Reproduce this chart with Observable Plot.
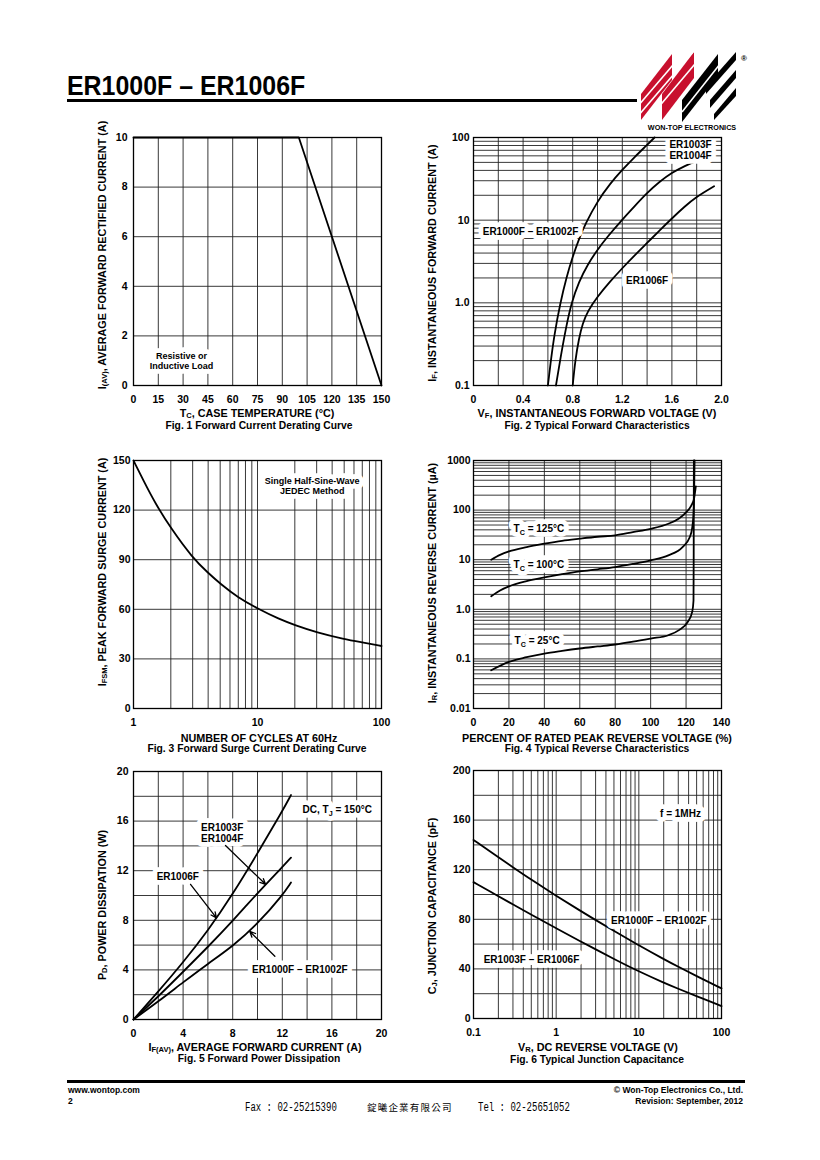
<!DOCTYPE html>
<html><head><meta charset="utf-8">
<script src="https://cdn.jsdelivr.net/npm/d3@7"></script>
<script src="https://cdn.jsdelivr.net/npm/@observablehq/plot@0.6"></script>
<style>
html,body{margin:0;padding:0;background:#fff;}
#page{position:relative;width:820px;height:1160px;overflow:hidden;background:#fff;font-family:"Liberation Sans",Arial,Helvetica,sans-serif;color:#000;}
.t{position:absolute;white-space:nowrap;line-height:1;font-weight:bold;}
sub{font-size:0.7em;vertical-align:-0.2em;line-height:0;}
</style></head><body><div id="page"></div><script>
// ---------------- DATA ----------------
// Fig. 1 Forward Current Derating Curve (Tc °C, A)
const fig1Temp = [0, 100, 150];
const fig1Current = [10, 10, 0];
const fig1XTicks = [0, 15, 30, 45, 60, 75, 90, 105, 120, 135, 150];
const fig1YTicks = [0, 2, 4, 6, 8, 10];
const fig1Notes = [{x: 29, y: 1.0, text: "Resistive or\nInductive Load"}];

// Fig. 2 Typical Forward Characteristics (V, A)
const fig2XTicks = [0, 0.4, 0.8, 1.2, 1.6, 2.0];
const fig2YTicks = [0.1, 1, 10, 100];
const fwdER1000 = [[0.60,0.1],[0.62,0.18],[0.65,0.40],[0.70,1.0],[0.75,2.04],[0.80,3.63],[0.85,5.9],[0.90,8.9],[1.0,17],[1.1,27.5],[1.2,40.7],[1.3,58.2],[1.4,81.3],[1.46,100]];
const fwdER1003 = [[0.665,0.1],[0.70,0.21],[0.75,0.54],[0.79,1.0],[0.85,1.8],[0.92,2.9],[1.0,4.4],[1.08,6.3],[1.19,9.8],[1.3,14.8],[1.4,21.4],[1.5,29.2],[1.6,37.6],[1.7,45],[1.8,52.5]];
const fwdER1006 = [[0.80,0.1],[0.82,0.2],[0.85,0.37],[0.88,0.56],[0.92,0.79],[1.0,1.19],[1.1,1.8],[1.2,2.63],[1.3,3.76],[1.4,5.3],[1.5,7.5],[1.6,10.5],[1.7,14.5],[1.8,19.3],[1.94,25.7]];
const fig2Notes = [
  {x: 1.75, y: 71.6, text: "ER1003F\nER1004F"},
  {x: 0.46, y: 7.3, text: "ER1000F – ER1002F"},
  {x: 1.40, y: 1.86, text: "ER1006F"}
];

// Fig. 3 Forward Surge Current Derating Curve (cycles, A)
const fig3XTicks = [1, 10, 100];
const fig3YTicks = [0, 30, 60, 90, 120, 150];
const surgeCycles = [1, 1.2, 1.5, 2, 3, 4, 5, 7, 10, 15, 20, 30, 50, 70, 100];
const surgeCurrent = [150, 138, 124, 109, 91, 82, 75.5, 67, 60.5, 54, 50.5, 46, 42, 40, 37.8];
const fig3Notes = [{x: 27.6, y: 134.9, text: "Single Half-Sine-Wave\nJEDEC Method"}];

// Fig. 4 Typical Reverse Characteristics (% VRRM, µA)
const fig4XTicks = [0, 20, 40, 60, 80, 100, 120, 140];
const fig4YTicks = [0.01, 0.1, 1, 10, 100, 1000];
const rev125 = [[10,10],[15,12.5],[20,14.7],[30,18],[40,21],[50,24],[60,26.5],[70,29],[80,31],[90,36],[100,42],[110,53],[116,68],[120,90],[123,125],[124.5,170],[125.5,300]];
const rev100 = [[10,1.83],[15,2.4],[20,2.9],[30,3.7],[40,4.4],[50,5.1],[60,5.8],[70,6.4],[80,7.1],[90,8.2],[100,9.7],[110,12.2],[118,18],[122,28],[123.5,45],[124.3,100],[124.6,300],[124.8,1000]];
const rev25 = [[10,0.059],[20,0.087],[30,0.108],[40,0.128],[50,0.145],[60,0.162],[70,0.178],[80,0.195],[90,0.222],[100,0.257],[110,0.30],[116,0.38],[121,0.56],[123.5,0.9],[124.2,1.5],[124.3,10],[124.4,1000]];
const fig4Notes = [
  {x: 36.9, y: 42, text: "T{C} = 125°C"},
  {x: 36.9, y: 8.0, text: "T{C} = 100°C"},
  {x: 35.9, y: 0.235, text: "T{C} = 25°C"}
];

// Fig. 5 Forward Power Dissipation (A, W)
const fig5XTicks = [0, 4, 8, 12, 16, 20];
const fig5YTicks = [0, 4, 8, 12, 16, 20];
const pdER1006 = [[0,0],[2,2.25],[4,4.6],[6,7.15],[8,10.1],[10,13.4],[12,16.8],[12.7,18.1]];
const pdER1003 = [[0,0],[2,1.85],[4,3.85],[6,5.85],[8,7.95],[10,10.2],[12,12.3],[12.7,13.05]];
const pdER1000 = [[0,0],[2,1.45],[4,3.0],[6,4.5],[8,5.9],[10,7.7],[12,10.0],[12.7,11.05]];
const fig5Notes = [
  {x: 16.43, y: 16.9, text: "DC, T{J} = 150°C"},
  {x: 7.15, y: 15.08, text: "ER1003F\nER1004F"},
  {x: 3.57, y: 11.53, text: "ER1006F"},
  {x: 13.41, y: 4.0, text: "ER1000F – ER1002F"}
];
const fig5Arrows = [
  {x1: 4.6, y1: 10.9, x2: 6.69, y2: 8.2},
  {x1: 7.42, y1: 14.03, x2: 10.65, y2: 10.9},
  {x1: 11.4, y1: 5.1, x2: 9.38, y2: 7.1}
];

// Fig. 6 Typical Junction Capacitance (V, pF)
const fig6XTicks = [0.1, 1, 10, 100];
const fig6YTicks = [0, 40, 80, 120, 160, 200];
const capVolts = [0.1, 0.2, 0.3, 0.5, 1, 2, 3, 5, 10, 20, 30, 50, 100];
const capER1000 = [144, 130, 122, 112, 99, 86.5, 79.4, 70.6, 59, 47.9, 41.7, 34.2, 24.3];
const capER1003 = [110, 98.6, 92, 83.8, 72.8, 62, 55.8, 48, 37.9, 28.9, 24, 18, 10];
const fig6Notes = [
  {x: 31.9, y: 165, text: "f = 1MHz"},
  {x: 17.5, y: 79, text: "ER1000F – ER1002F"},
  {x: 0.503, y: 47.3, text: "ER1003F – ER1006F"}
];

// ---------------- HELPERS ----------------
const FONT = '"Liberation Sans", Arial, Helvetica, sans-serif';
const page = document.getElementById("page");
const PW = 248, PH = 248, ML = 44, MR = 18, MT = 12, MB = 26;

function linGrid(lo, hi, step) { const a = []; for (let v = lo; v <= hi + 1e-9; v += step) a.push(+v.toFixed(6)); return a; }
function logGrid(lo, hi) { const a = []; for (let d = lo; d < hi * 0.999; d *= 10) for (let m = 1; m <= 9; m++) a.push(+(m * d).toPrecision(6)); a.push(hi); return a; }
const numFmt = d => d === 1 ? "1.0" : String(d);

function subscriptify(svg) {
  svg.querySelectorAll("text").forEach(t => {
    const s = t.textContent;
    if (!s.includes("{")) return;
    const parts = s.split(/(\{[^}]*\})/).filter(p => p);
    while (t.firstChild) t.removeChild(t.firstChild);
    let shifted = false;
    parts.forEach(p => {
      const ts = document.createElementNS("http://www.w3.org/2000/svg", "tspan");
      if (p.startsWith("{")) { ts.textContent = p.slice(1, -1); ts.setAttribute("font-size", "7.2"); ts.setAttribute("dy", "2.5"); shifted = true; }
      else { ts.textContent = p; if (shifted) { ts.setAttribute("dy", "-2.5"); shifted = false; } }
      t.appendChild(ts);
    });
  });
}

const lineStyle = {stroke: "#000", strokeWidth: 1.8, curve: "basis"};
// two layers: white box-like halo first, black text on top
function notes(data, fs) {
  const base = {x: "x", y: "y", text: "text", fontSize: fs, lineHeight: fs < 10 ? 1.12 : 1.1};
  return [
    Plot.text(data, {...base, fill: "white", stroke: "white", strokeWidth: 9.5, strokeLinejoin: "round"}),
    Plot.text(data, {...base, fill: "#000"})
  ];
}

function chart(o) {
  const svg = Plot.plot({
    width: ML + PW + MR, height: MT + PH + MB,
    marginLeft: ML, marginRight: MR, marginTop: MT, marginBottom: MB,
    x: o.x, y: o.y,
    style: {fontFamily: FONT, fontSize: "10.5px", fontWeight: "bold", color: "#000", background: "transparent", overflow: "visible"},
    marks: [
      Plot.ruleX(o.xGrid, {stroke: "#222", strokeWidth: 0.9}),
      Plot.ruleY(o.yGrid, {stroke: "#222", strokeWidth: 0.9}),
      ...o.marks,
      Plot.frame({stroke: "#000", strokeWidth: 1.3}),
      Plot.axisX({ticks: o.xTicks, tickFormat: o.xFmt || (d => String(d)), tickSize: 0, tickPadding: 10, label: null}),
      Plot.axisY({ticks: o.yTicks, tickFormat: o.yFmt || (d => String(d)), tickSize: 0, tickPadding: o.yPad, label: null})
    ]
  });
  svg.style.position = "absolute";
  svg.style.left = (o.x0 - ML) + "px";
  svg.style.top = (o.y0 - MT) + "px";
  page.appendChild(svg);
  subscriptify(svg);
}

function txt(html, x, y, opt = {}) {
  const d = document.createElement("div");
  d.className = "t";
  d.innerHTML = html;
  const a = opt.anchor || "middle";
  const tx = a === "start" ? "0" : a === "end" ? "-100%" : "-50%";
  d.style.left = x + "px";
  d.style.top = y + "px";
  d.style.fontSize = (opt.size || 10.8) + "px";
  if (opt.family) d.style.fontFamily = opt.family;
  if (opt.weight) d.style.fontWeight = opt.weight;
  if (opt.ls) d.style.letterSpacing = opt.ls + "px";
  let tr = `translate(${tx},-50%)`;
  if (opt.rotate) tr += " rotate(-90deg)";
  if (opt.sx) { tr += ` scaleX(${opt.sx})`; }
  d.style.transform = tr;
  if (opt.sx) d.style.transformOrigin = a === "start" ? "left center" : "center";
  page.appendChild(d);
  return d;
}

// ---------------- CHARTS ----------------
chart({
  x0: 133, y0: 137,
  x: {domain: [0, 150]}, y: {domain: [0, 10]},
  xGrid: fig1XTicks, yGrid: fig1YTicks, xTicks: fig1XTicks, yTicks: fig1YTicks, yPad: 6,
  marks: [
    Plot.line(fig1Temp.map((t, i) => ({t, i: fig1Current[i]})), {x: "t", y: "i", stroke: "#000", strokeWidth: 1.8}),
    ...notes(fig1Notes, 9)
  ]
});

chart({
  x0: 473, y0: 137,
  x: {domain: [0, 2]}, y: {type: "log", domain: [0.1, 100]},
  xGrid: linGrid(0, 2, 0.2), yGrid: logGrid(0.1, 100), xTicks: fig2XTicks, yTicks: fig2YTicks, yPad: 4,
  xFmt: d => d === 0 ? "0" : d.toFixed(1), yFmt: numFmt,
  marks: [
    Plot.line(fwdER1000, {x: d => d[0], y: d => d[1], ...lineStyle}),
    Plot.line(fwdER1003, {x: d => d[0], y: d => d[1], ...lineStyle}),
    Plot.line(fwdER1006, {x: d => d[0], y: d => d[1], ...lineStyle}),
    ...notes(fig2Notes, 10)
  ]
});

chart({
  x0: 133, y0: 460,
  x: {type: "log", domain: [1, 100]}, y: {domain: [0, 150]},
  xGrid: logGrid(1, 100), yGrid: fig3YTicks, xTicks: fig3XTicks, yTicks: fig3YTicks, yPad: 3,
  marks: [
    Plot.line(surgeCycles.map((n, i) => ({n, a: surgeCurrent[i]})), {x: "n", y: "a", ...lineStyle}),
    ...notes(fig3Notes, 9)
  ]
});

chart({
  x0: 473, y0: 460,
  x: {domain: [0, 140]}, y: {type: "log", domain: [0.01, 1000]},
  xGrid: fig4XTicks, yGrid: logGrid(0.01, 1000), xTicks: fig4XTicks, yTicks: fig4YTicks, yPad: 3,
  yFmt: numFmt,
  marks: [
    Plot.line(rev125, {x: d => d[0], y: d => d[1], ...lineStyle, curve: "monotone-x"}),
    Plot.line(rev100, {x: d => d[0], y: d => d[1], ...lineStyle, curve: "monotone-x"}),
    Plot.line(rev25, {x: d => d[0], y: d => d[1], ...lineStyle, curve: "monotone-x"}),
    ...notes(fig4Notes, 10)
  ]
});

chart({
  x0: 133, y0: 771,
  x: {domain: [0, 20]}, y: {domain: [0, 20]},
  xGrid: linGrid(0, 20, 2), yGrid: linGrid(0, 20, 2), xTicks: fig5XTicks, yTicks: fig5YTicks, yPad: 5,
  marks: [
    Plot.line(pdER1006, {x: d => d[0], y: d => d[1], ...lineStyle}),
    Plot.line(pdER1003, {x: d => d[0], y: d => d[1], ...lineStyle}),
    Plot.line(pdER1000, {x: d => d[0], y: d => d[1], ...lineStyle}),
    ...notes(fig5Notes, 10),
    Plot.arrow(fig5Arrows, {x1: "x1", y1: "y1", x2: "x2", y2: "y2", stroke: "#000", strokeWidth: 1.3, headLength: 7, headAngle: 50})
  ]
});

chart({
  x0: 473, y0: 770,
  x: {type: "log", domain: [0.1, 100]}, y: {domain: [0, 200]},
  xGrid: logGrid(0.1, 100), yGrid: linGrid(0, 200, 20), xTicks: fig6XTicks, yTicks: fig6YTicks, yPad: 3,
  xFmt: d => String(d),
  marks: [
    Plot.line(capVolts.map((v, i) => ({v, c: capER1000[i]})), {x: "v", y: "c", ...lineStyle}),
    Plot.line(capVolts.map((v, i) => ({v, c: capER1003[i]})), {x: "v", y: "c", ...lineStyle}),
    ...notes(fig6Notes, 10)
  ]
});

// ---------------- AXIS TITLES & CAPTIONS ----------------
txt("I<sub>(AV)</sub>, AVERAGE FORWARD RECTIFIED CURRENT (A)", 102, 255, {rotate: true});
txt("T<sub>C</sub>, CASE TEMPERATURE (°C)", 257, 412.5);
txt("Fig. 1 Forward Current Derating Curve", 259, 425.5, {size: 10.3});

txt("I<sub>F</sub>, INSTANTANEOUS FORWARD CURRENT (A)", 432, 263, {rotate: true});
txt("V<sub>F</sub>, INSTANTANEOUS FORWARD VOLTAGE (V)", 597, 412.5);
txt("Fig. 2 Typical Forward Characteristics", 597, 425.5, {size: 10.3});

txt("I<sub>FSM</sub>, PEAK FORWARD SURGE CURRENT (A)", 102, 572, {rotate: true});
txt("NUMBER OF CYCLES AT 60Hz", 259, 737.5);
txt("Fig. 3 Forward Surge Current Derating Curve", 257, 749, {size: 10.3});

txt("I<sub>R</sub>, INSTANTANEOUS REVERSE CURRENT (µA)", 432, 583, {rotate: true});
txt("PERCENT OF RATED PEAK REVERSE VOLTAGE (%)", 597, 737.5);
txt("Fig. 4 Typical Reverse Characteristics", 597, 749, {size: 10.3});

txt("P<sub>D</sub>, POWER DISSIPATION (W)", 102, 905, {rotate: true});
txt("I<sub>F(AV)</sub>, AVERAGE FORWARD CURRENT (A)", 255, 1046.5);
txt("Fig. 5 Forward Power Dissipation", 259, 1058.5, {size: 10.3});

txt("C<sub>J</sub>, JUNCTION CAPACITANCE (pF)", 432, 906, {rotate: true});
txt("V<sub>R</sub>, DC REVERSE VOLTAGE (V)", 598, 1047);
txt("Fig. 6 Typical Junction Capacitance", 597, 1059.5, {size: 10.3});

// ---------------- HEADER ----------------
txt("ER1000F – ER1006F", 67, 86, {anchor: "start", size: 28, sx: 0.89});
const rule1 = document.createElement("div");
rule1.style.cssText = "position:absolute;left:67px;top:99px;width:570px;height:3px;background:#000;";
page.appendChild(rule1);

const logo = document.createElementNS("http://www.w3.org/2000/svg", "svg");
logo.setAttribute("width", "110"); logo.setAttribute("height", "75");
logo.style.cssText = "position:absolute;left:638px;top:50px;";
logo.innerHTML = `
  <polygon points="3,70 3,44 34,4 34,30" fill="#c8102e"/>
  <polygon points="24,70 24,44 56,2 56,28" fill="#c8102e"/>
  <polygon points="44,72 44,50 80,4 80,26" fill="#000"/>
  <polygon points="68,44 68,36 98,2 98,10" fill="#000"/>
  <polygon points="72,58 72,50 98,20 98,28" fill="#000"/>
  <polygon points="76,70 76,64 98,38 98,46" fill="#000"/>
  <g stroke="#fff" stroke-width="1.6">
    <line x1="0" y1="56" x2="58" y2="-12"/>
    <line x1="0" y1="66" x2="60" y2="-4"/>
    <line x1="8" y1="72" x2="62" y2="8"/>
    <line x1="44" y1="62" x2="82" y2="14"/>
  </g>`;
page.appendChild(logo);
txt("WON-TOP ELECTRONICS", 692, 128, {size: 7.6, sx: 0.95});
txt("®", 744, 59, {size: 8});

// ---------------- FOOTER ----------------
const rule2 = document.createElement("div");
rule2.style.cssText = "position:absolute;left:67px;top:1080px;width:678px;height:2.5px;background:#000;";
page.appendChild(rule2);
txt("www.wontop.com", 68, 1090, {anchor: "start", size: 8.5});
txt("2", 68, 1101, {anchor: "start", size: 8.5});
txt("© Won-Top Electronics Co., Ltd.", 743, 1090, {anchor: "end", size: 8.5});
txt("Revision: September, 2012", 743, 1101, {anchor: "end", size: 8.5});
txt("Fax : 02-25215390", 245, 1108, {anchor: "start", size: 12, family: '"Liberation Mono", monospace', weight: "normal", sx: 0.75});
txt("錠曦企業有限公司", 367, 1108, {anchor: "start", size: 9.5, family: '"Noto Sans CJK TC", sans-serif', weight: "normal", ls: 1.2});
txt("Tel : 02-25651052", 478, 1108, {anchor: "start", size: 12, family: '"Liberation Mono", monospace', weight: "normal", sx: 0.75});
</script></body></html>
